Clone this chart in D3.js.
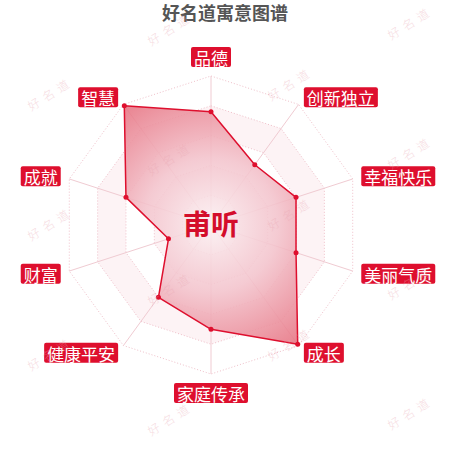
<!DOCTYPE html>
<html>
<head>
<meta charset="utf-8">
<script src="https://cdn.jsdelivr.net/npm/d3@7"></script>
<style>
  body { margin: 0; background: #fff; }
  svg { display: block; font-family: "Noto Sans CJK SC", "Noto Sans", sans-serif; }
</style>
</head>
<body>
<div id="chart"></div>
<script>
"use strict";

// === DATA ===
const indicators = ["品德", "创新独立", "幸福快乐", "美丽气质", "成长", "家庭传承", "健康平安", "财富", "成就", "智慧"];
const scores = [76, 50, 60, 60, 99, 70, 60, 30, 60, 99];
const ringTicks = [20, 40, 60, 80, 100];
const chartTitle = "好名道寓意图谱";
const personName = "甫听";
const watermarkText = "好名道";

// === SVG SETUP ===
const width = 450, height = 450;
const cx = 211, cy = 225;
const outerR = 149, labelR = 158;
const red = "#de0f2e";

const svg = d3.select("#chart")
  .append("svg")
  .attr("width", width)
  .attr("height", height);

// === SCALES ===
const rScale = d3.scaleLinear().domain([0, 100]).range([0, outerR]);
const angle = d3.scaleLinear().domain([0, indicators.length]).range([0, 2 * Math.PI]);

const radial = d3.lineRadial()
  .angle((d, i) => angle(i))
  .radius(d => rScale(d))
  .curve(d3.curveLinearClosed);

// gradient lives in the translated group's space, so centre is 0,0
const defs = svg.append("defs");
const grad = defs.append("radialGradient")
  .attr("id", "areaGrad")
  .attr("gradientUnits", "userSpaceOnUse")
  .attr("cx", 0).attr("cy", 0).attr("r", outerR);
grad.append("stop").attr("offset", "0%").attr("stop-color", "#fbf0f2");
grad.append("stop").attr("offset", "45%").attr("stop-color", "#f3c3cc");
grad.append("stop").attr("offset", "100%").attr("stop-color", "#e6707f");

const g = svg.append("g").attr("transform", `translate(${cx},${cy})`);

// === SPLIT AREAS (alternating, outer ring white) ===
ringTicks.slice().reverse().forEach(t => {
  const idx = ringTicks.indexOf(t);
  g.append("path")
    .attr("d", radial(indicators.map(() => t)))
    .attr("fill", idx % 2 === 1 ? "#fdf3f5" : "#ffffff");
});

// === SPLIT LINES ===
ringTicks.forEach(t => {
  g.append("path")
    .attr("d", radial(indicators.map(() => t)))
    .attr("fill", "none")
    .attr("stroke", "#efbfc9")
    .attr("stroke-width", 1)
    .attr("stroke-dasharray", "1 2");
});

// === AXIS LINES ===
indicators.forEach((d, i) => {
  const a = angle(i);
  g.append("line")
    .attr("x1", 0).attr("y1", 0)
    .attr("x2", rScale(100) * Math.sin(a))
    .attr("y2", -rScale(100) * Math.cos(a))
    .attr("stroke", "#f0cbd2")
    .attr("stroke-width", 1);
});

// === DATA AREA ===
g.append("path")
  .attr("d", radial(scores))
  .attr("fill", "url(#areaGrad)")
  .attr("fill-opacity", 0.88)
  .attr("stroke", red)
  .attr("stroke-width", 1.5)
  .attr("stroke-linejoin", "round");

g.selectAll("circle.pt")
  .data(scores)
  .enter()
  .append("circle")
  .attr("class", "pt")
  .attr("cx", (d, i) => rScale(d) * Math.sin(angle(i)))
  .attr("cy", (d, i) => -rScale(d) * Math.cos(angle(i)))
  .attr("r", 2.5)
  .attr("fill", red);

// === INDICATOR LABELS ===
indicators.forEach((name, i) => {
  const a = angle(i);
  const s = Math.sin(a), c = Math.cos(a);
  const px = cx + labelR * s, py = cy - labelR * c;
  const lg = svg.append("g");
  const txt = lg.append("text")
    .attr("font-size", "17px")
    .attr("fill", "#fff")
    .attr("dominant-baseline", "central")
    .text(name);
  const tw = txt.node().getComputedTextLength();
  const bw = tw + 6, bh = 20;
  let x0, y0;
  if (Math.abs(s) < 0.01) {
    x0 = px - bw / 2;
    y0 = c > 0 ? py - bh : py;
  } else if (s > 0) {
    x0 = px; y0 = py - bh / 2;
  } else {
    x0 = px - bw; y0 = py - bh / 2;
  }
  lg.insert("rect", "text")
    .attr("x", x0).attr("y", y0)
    .attr("width", bw).attr("height", bh)
    .attr("rx", 2)
    .attr("fill", red);
  txt.attr("x", x0 + 3).attr("y", y0 + bh / 2 + 0.5);
});

// === CENTER NAME ===
svg.append("text")
  .attr("x", cx)
  .attr("y", cy - 2)
  .attr("text-anchor", "middle")
  .attr("dominant-baseline", "central")
  .attr("font-size", "28px")
  .attr("font-weight", "bold")
  .attr("fill", "#d40d2b")
  .text(personName);

// === TITLE ===
svg.append("text")
  .attr("x", 225)
  .attr("y", 12)
  .attr("text-anchor", "middle")
  .attr("dominant-baseline", "central")
  .attr("font-size", "18px")
  .attr("font-weight", "bold")
  .attr("fill", "#555")
  .text(chartTitle);

// === WATERMARKS ===
const wmCols = [50, 170, 290, 410];
const wmStart = [93, 28, 83, 22];
wmCols.forEach((x, k) => {
  for (let y = wmStart[k]; y < height + 20; y += 130) {
    svg.append("text")
      .attr("transform", `translate(${x},${y}) rotate(-32)`)
      .attr("text-anchor", "middle")
      .attr("dominant-baseline", "central")
      .attr("font-size", "12px")
      .attr("font-weight", "300")
      .attr("letter-spacing", "5px")
      .attr("fill", "#eaa7b3")
      .attr("opacity", 0.4)
      .text(watermarkText);
  }
});
</script>
</body>
</html>
